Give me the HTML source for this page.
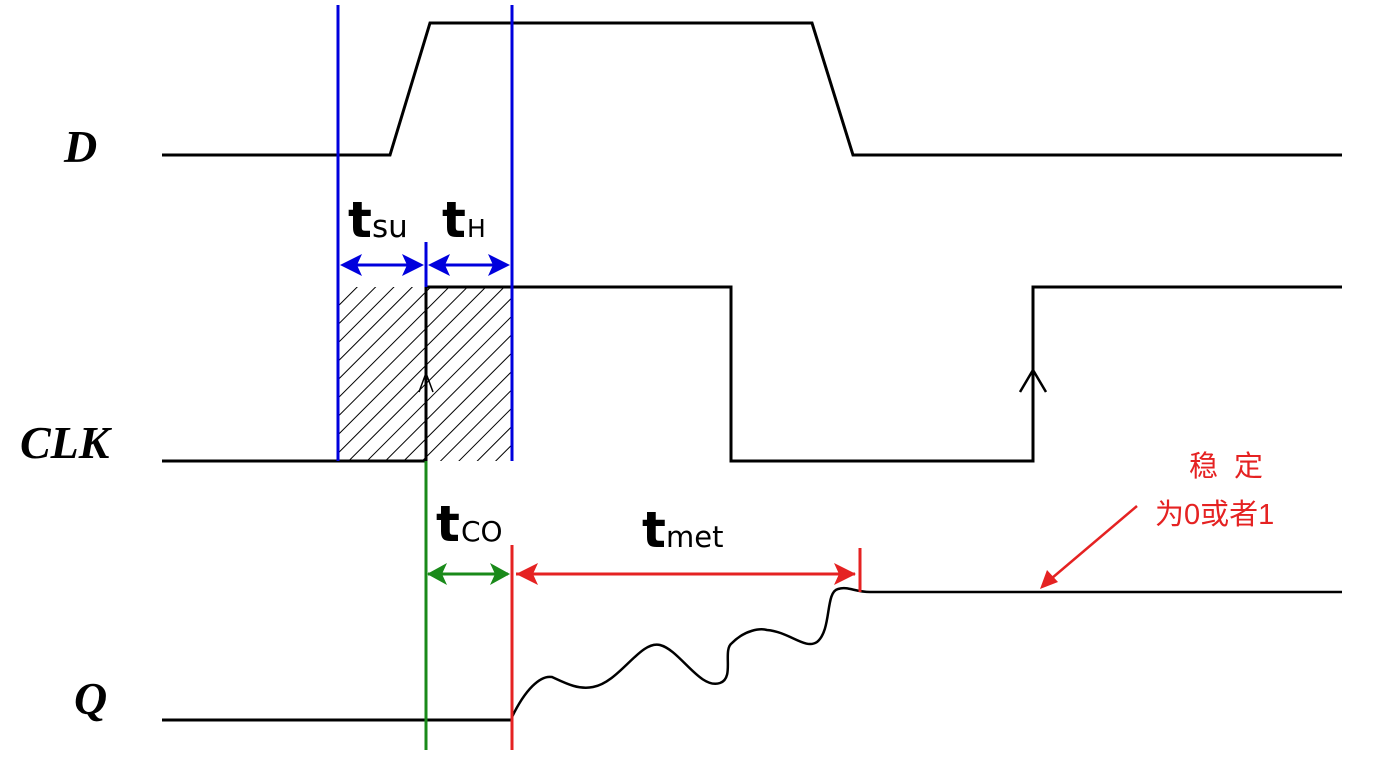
<!DOCTYPE html>
<html><head><meta charset="utf-8"><style>
html,body{margin:0;padding:0;background:#fff;}
svg{display:block}
</style></head><body>
<svg width="1380" height="764" viewBox="0 0 1380 764" xmlns="http://www.w3.org/2000/svg">
<defs>
<pattern id="h" patternUnits="userSpaceOnUse" width="13" height="13" patternTransform="rotate(45)">
<line x1="0" y1="0" x2="0" y2="13" stroke="#000" stroke-width="2"/>
</pattern>
</defs>
<rect width="1380" height="764" fill="#fff"/>
<rect x="338" y="287" width="174" height="174" fill="url(#h)"/>
<g fill="none" stroke="#000" stroke-width="3">
<polyline points="162,155 390,155 430,23 812,23 853,155 1342,155"/>
<polyline points="162,461 426,461 426,287 731,287 731,461 1033,461 1033,287 1342,287"/>
<polyline points="162,720 512,720"/>
<path d="M512,717 C525,690 540,675 552,677 C565,683 578,690 593,687 C620,682 640,640 660,645 C680,650 700,690 720,683 C735,678 722,650 732,643 C745,630 760,628 767,630 C790,632 805,650 817,642 C832,630 825,592 838,589 C848,586 855,592 870,592 L1342,592" stroke-width="2.5"/>
<polyline points="1020,392 1033,370 1046,392" stroke-width="2.5"/>
<polyline points="419,392 426,373 433,392" stroke-width="1.5"/>
</g>
<g stroke="#0000dd" stroke-width="3">
<line x1="338" y1="5" x2="338" y2="461"/>
<line x1="512" y1="5" x2="512" y2="461"/>
<line x1="426" y1="242" x2="426" y2="287"/>
<line x1="345" y1="265" x2="420" y2="265"/>
<line x1="432" y1="265" x2="506" y2="265"/>
</g>
<path d="M340,265 L362,254 L357,265 L362,276 Z M424,265 L402,254 L407,265 L402,276 Z M428,265 L450,254 L445,265 L450,276 Z M510,265 L488,254 L493,265 L488,276 Z" fill="#0000dd"/>
<g stroke="#1a8a1a" stroke-width="3">
<line x1="426" y1="461" x2="426" y2="750"/>
<line x1="428" y1="574" x2="508" y2="574"/>
</g>
<path d="M427,574 L447,563 L442,574 L447,585 Z M510,574 L490,563 L495,574 L490,585 Z" fill="#1a8a1a"/>
<g stroke="#e52222" stroke-width="3">
<line x1="512" y1="545" x2="512" y2="750"/>
<line x1="860" y1="548" x2="860" y2="592"/>
<line x1="516" y1="574" x2="855" y2="574"/>
<line x1="1137" y1="506" x2="1045" y2="584" stroke-width="2.5"/>
</g>
<path d="M516,574 L538,563 L533,574 L538,585 Z M856,574 L834,563 L839,574 L834,585 Z M1040,589 L1047,570 L1058,582 Z" fill="#e52222"/>
<g font-family="Liberation Serif, serif" font-style="italic" font-weight="bold" font-size="46" fill="#000">
<text x="64" y="162">D</text>
<text x="20" y="458">CLK</text>
<text x="74" y="714">Q</text>
</g>
<g font-family="DejaVu Sans, sans-serif" fill="#000">
<text x="348" y="237" font-size="50" font-weight="bold">t</text><text x="372" y="237" font-size="31">su</text>
<text x="442" y="237" font-size="50" font-weight="bold">t</text><text x="467" y="237" font-size="25">H</text>
<text x="436" y="541" font-size="50" font-weight="bold">t</text><text x="461" y="541" font-size="28">CO</text>
<text x="642" y="547" font-size="50" font-weight="bold">t</text><text x="666" y="547" font-size="29">met</text>
</g>
<g font-family="Liberation Sans, Noto Sans CJK SC, sans-serif" font-size="29" fill="#e52222">
<text x="1189" y="476" letter-spacing="16">稳定</text>
<text x="1155" y="524">为0或者1</text>
</g>
</svg>
</body></html>
